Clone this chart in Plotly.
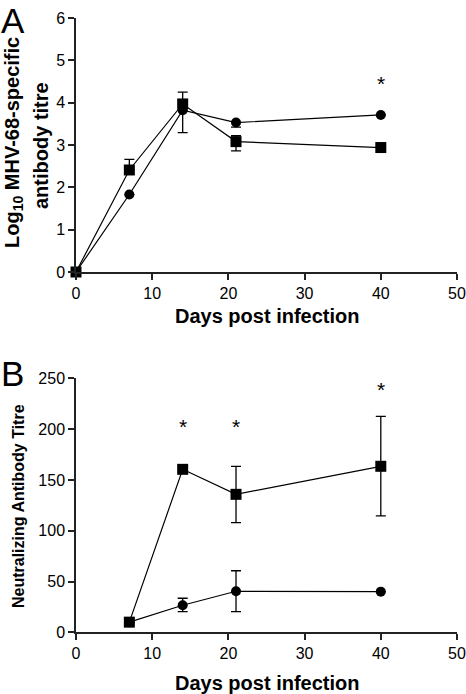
import plotly.graph_objects as go

# Panel A data
days_a = [0, 7, 14, 21, 40]
circ_a = [0, 1.83, 3.82, 3.53, 3.71]
circ_a_up = [0, 0, 0, 0, 0]
circ_a_dn = [0, 0, 0.53, 0.11, 0]
sq_a = [0, 2.41, 3.97, 3.08, 2.94]
sq_a_up = [0, 0.25, 0.28, 0.14, 0]
sq_a_dn = [0, 0, 0, 0.22, 0]
star_a_x = [40]
star_a_y = [4.45]

# Panel B data
days_b = [7, 14, 21, 40]
circ_b = [10, 26.6, 40.4, 40]
circ_b_up = [0, 6.9, 20.2, 0]
circ_b_dn = [0, 6.3, 20.1, 0]
sq_b = [10, 160.4, 135.8, 163.4]
sq_b_up = [0, 0, 27.6, 49.2]
sq_b_dn = [0, 0, 27.9, 48.9]
star_b_x = [14, 21, 40]
star_b_y = [203, 203, 239]

FONT = "Arial, Liberation Sans, sans-serif"
BLACK = "#000000"
W, H = 466, 694

fig = go.Figure()

def add_series(x, y, up, dn, symbol, size, xa, ya):
    fig.add_trace(go.Scatter(
        x=x, y=y, mode="lines+markers", xaxis=xa, yaxis=ya,
        line=dict(color=BLACK, width=1.2),
        marker=dict(symbol=symbol, size=size, color=BLACK),
        error_y=dict(type="data", symmetric=False, array=up, arrayminus=dn,
                     color=BLACK, thickness=1.3, width=5),
        showlegend=False, hoverinfo="x+y", cliponaxis=False))

add_series(days_a, circ_a, circ_a_up, circ_a_dn, "circle", 10, "x", "y")
add_series(days_a, sq_a, sq_a_up, sq_a_dn, "square", 11, "x", "y")
add_series(days_b, circ_b, circ_b_up, circ_b_dn, "circle", 10, "x2", "y2")
add_series(days_b, sq_b, sq_b_up, sq_b_dn, "square", 11, "x2", "y2")

def px(xp):
    return xp / W

def py(yp):
    return 1 - yp / H

annotations = []
for sx, sy in zip(star_a_x, star_a_y):
    annotations.append(dict(x=sx, y=sy, xref="x", yref="y", text="*", showarrow=False,
                            font=dict(family=FONT, size=21, color=BLACK)))
for sx, sy in zip(star_b_x, star_b_y):
    annotations.append(dict(x=sx, y=sy, xref="x2", yref="y2", text="*", showarrow=False,
                            font=dict(family=FONT, size=21, color=BLACK)))

# panel letters
annotations.append(dict(x=px(0), y=py(0), xref="paper", yref="paper", text="A", showarrow=False,
                        xanchor="left", yanchor="top", borderpad=0,
                        font=dict(family=FONT, size=35, color=BLACK)))
annotations.append(dict(x=px(0), y=py(353), xref="paper", yref="paper", text="B", showarrow=False,
                        xanchor="left", yanchor="top", borderpad=0,
                        font=dict(family=FONT, size=35, color=BLACK)))

# axis titles as annotations
TFONT = dict(family=FONT, size=20, color=BLACK)
annotations.append(dict(x=px(14), y=py(143), xref="paper", yref="paper", textangle=-90,
                        text="<b>Log<sub>10</sub> MHV-68-specific</b>", showarrow=False,
                        xanchor="center", yanchor="middle", font=TFONT))
annotations.append(dict(x=px(41), y=py(146), xref="paper", yref="paper", textangle=-90,
                        text="<b>antibody titre</b>", showarrow=False,
                        xanchor="center", yanchor="middle", font=TFONT))
annotations.append(dict(x=px(18), y=py(506), xref="paper", yref="paper", textangle=-90,
                        text="<b>Neutralizing Antibody Titre</b>", showarrow=False,
                        xanchor="center", yanchor="middle",
                        font=dict(family=FONT, size=16, color=BLACK)))
annotations.append(dict(x=px(266.5), y=py(316), xref="paper", yref="paper",
                        text="<b>Days post infection</b>", showarrow=False,
                        xanchor="center", yanchor="middle", font=TFONT))
annotations.append(dict(x=px(266.5), y=py(683), xref="paper", yref="paper",
                        text="<b>Days post infection</b>", showarrow=False,
                        xanchor="center", yanchor="middle", font=TFONT))

axis_common = dict(showgrid=False, zeroline=False, showline=True, linecolor="#222222",
                   linewidth=1.5, ticks="outside", ticklen=6, tickwidth=1.5, tickcolor="#222222",
                   tickfont=dict(family=FONT, size=16, color=BLACK), automargin=False)

fig.update_layout(
    width=W, height=H,
    margin=dict(l=0, r=0, t=0, b=0),
    paper_bgcolor="white", plot_bgcolor="white",
    xaxis=dict(domain=[px(76), px(457)], range=[0, 50], dtick=10, anchor="y", **axis_common),
    yaxis=dict(domain=[py(272), py(18)], range=[0, 6], dtick=1, anchor="x", **axis_common),
    xaxis2=dict(domain=[px(76), px(457)], range=[0, 50], dtick=10, anchor="y2", **axis_common),
    yaxis2=dict(domain=[py(632.3), py(378.3)], range=[0, 250], dtick=50, anchor="x2", **axis_common),
    annotations=annotations,
)

fig.write_html("out.html", config={"displayModeBar": False},
               post_script="document.body.style.margin='0';")
